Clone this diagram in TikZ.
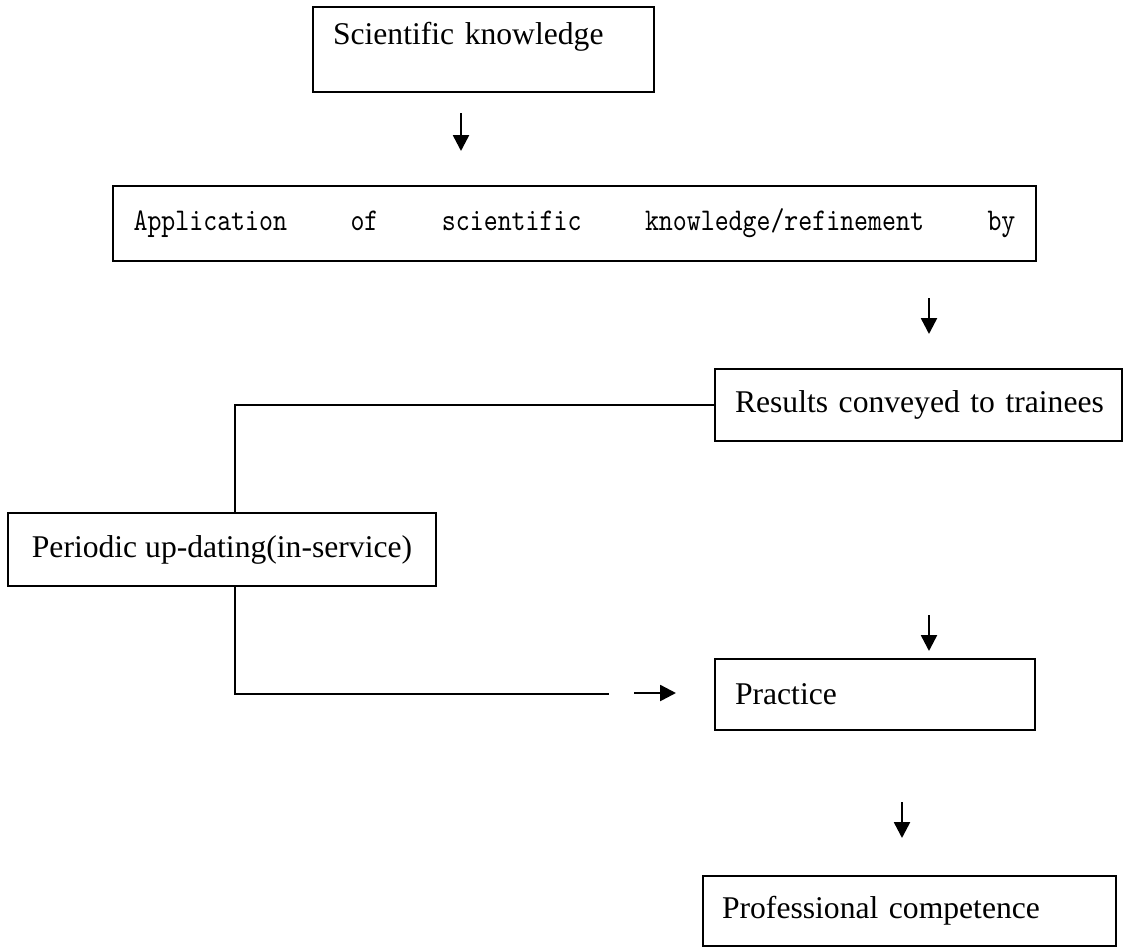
\documentclass[tikz,border=0pt]{standalone}
\usepackage{fontspec}
\setmainfont{Liberation Serif}
\newfontfamily\appmono[FakeStretch=0.84]{lmmono10-regular.otf}
\usetikzlibrary{arrows.meta}
\tikzset{
  box/.style={draw, line width=1.1pt, rectangle, inner xsep=0.4cm, inner ysep=0pt, font=\fontsize{18pt}{21pt}\selectfont, align=left},
  conn/.style={line width=1.1pt},
  arr/.style={line width=1.4pt, -{Triangle[length=9pt,width=9pt]}}
}
\begin{document}
\begin{tikzpicture}[x=0.02cm,y=-0.02cm]
\useasboundingbox (0,0) rectangle (1123,948);
\node[box, minimum width=6.82cm, minimum height=1.7cm, text width=6.02cm] (sk) at (483.5,49.5) {\raisebox{7pt}[\height][\depth]{Scientific knowledge}};
\node[box, minimum width=18.46cm, minimum height=1.5cm, text width=17.64cm, inner xsep=0.42cm, font=\appmono\fontsize{18pt}{20pt}\selectfont] (app) at (574.5,223.5) {Application\hfill of\hfill scientific\hfill knowledge/refinement\hfill by};
\node[box, minimum width=8.14cm, minimum height=1.44cm, text width=7.34cm] (res) at (918.5,405) {\mbox{Results conveyed to trainees}};
\node[box, minimum width=8.56cm, minimum height=1.46cm, align=center, inner xsep=0pt] (per) at (222,549.5) {Periodic up-dating(in-service)};
\node[box, minimum width=6.4cm, minimum height=1.42cm, text width=5.6cm] (pra) at (875,694.5) {Practice};
\node[box, minimum width=8.26cm, minimum height=1.4cm, text width=7.5cm, inner xsep=0.38cm] (pro) at (909.5,911) {\mbox{Professional competence}};
% free arrows
\coordinate (a1s) at (461,113); \coordinate (a1e) at (461,151);
\coordinate (a2s) at (929,298); \coordinate (a2e) at (929,334);
\coordinate (a3s) at (929,615); \coordinate (a3e) at (929,651);
\coordinate (a4s) at (902,802); \coordinate (a4e) at (902,838);
\coordinate (a5s) at (634,693); \coordinate (a5e) at (676,693);
\coordinate (c1) at (235,405);
\coordinate (c2) at (235,694);
\coordinate (c3) at (609,694);
\draw[arr] (a1s) -- (a1e);
\draw[arr] (a2s) -- (a2e);
\draw[arr] (a3s) -- (a3e);
\draw[arr] (a4s) -- (a4e);
\draw[arr] (a5s) -- (a5e);
\draw[conn] (res.west |- c1) -- (c1) -- (c1 |- per.north);
\draw[conn] (c2 |- per.south) -- (c2) -- (c3);
\end{tikzpicture}
\end{document}
